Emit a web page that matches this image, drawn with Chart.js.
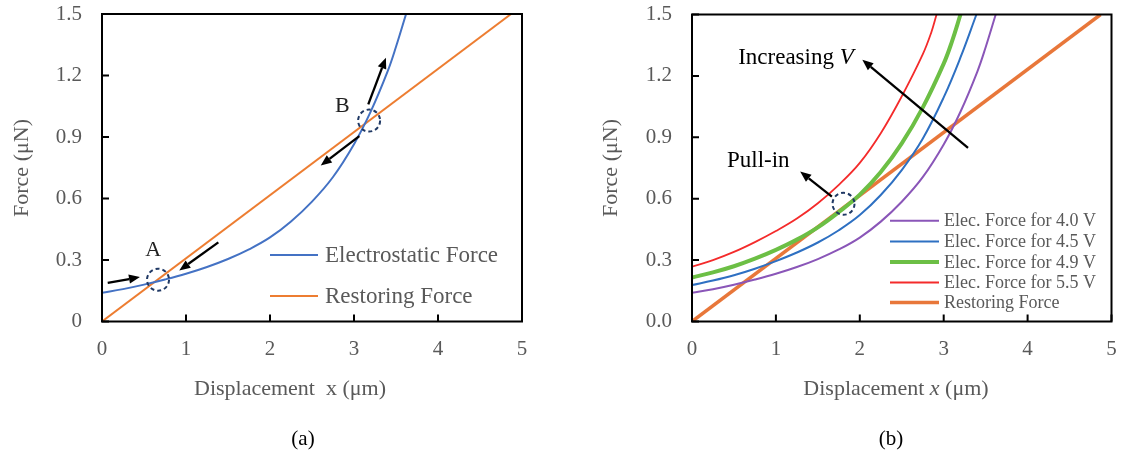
<!DOCTYPE html>
<html><head><meta charset="utf-8">
<script src="https://cdn.jsdelivr.net/npm/chart.js@4.4.0/dist/chart.umd.min.js"></script>
<style>
html,body{margin:0;padding:0;background:#fff;}
#wrap{position:relative;width:1122px;height:455px;}
canvas{position:absolute;top:0;}
</style></head><body>
<div id="wrap">
<canvas id="ca" width="561" height="455" style="left:0"></canvas>
<canvas id="cb" width="561" height="455" style="left:561px"></canvas>
</div>
<script>
// ---------- data ----------
const xTickLabels = ['0','1','2','3','4','5'];
const yTickLabelsA = ['0','0.3','0.6','0.9','1.2','1.5'];
const yTickLabelsB = ['0.0','0.3','0.6','0.9','1.2','1.5'];

const xElec40 = [0, 0.25, 0.5, 0.75, 1.0, 1.25, 1.5, 1.75, 2.0, 2.25, 2.5, 2.75, 3.0, 3.2, 3.4, 3.5, 3.62];
const yElec40 = [0.14, 0.158, 0.18, 0.205, 0.233, 0.266, 0.305, 0.352, 0.41, 0.488, 0.585, 0.705, 0.865, 1.025, 1.22, 1.34, 1.5];

const xElec45 = [0, 0.25, 0.5, 0.75, 1.0, 1.25, 1.5, 1.75, 2.0, 2.25, 2.5, 2.75, 3.0, 3.2, 3.39];
const yElec45 = [0.178, 0.2, 0.226, 0.258, 0.295, 0.337, 0.386, 0.446, 0.52, 0.618, 0.74, 0.893, 1.095, 1.29, 1.5];

const xElec49 = [0, 0.25, 0.5, 0.75, 1.0, 1.25, 1.5, 1.75, 2.0, 2.25, 2.5, 2.75, 3.0, 3.1, 3.2];
const yElec49 = [0.215, 0.24, 0.27, 0.307, 0.35, 0.40, 0.46, 0.535, 0.62, 0.73, 0.87, 1.045, 1.26, 1.37, 1.5];

const xElec55 = [0, 0.25, 0.5, 0.75, 1.0, 1.25, 1.5, 1.75, 2.0, 2.25, 2.5, 2.75, 2.85, 2.915];
const yElec55 = [0.268, 0.30, 0.34, 0.388, 0.442, 0.503, 0.578, 0.668, 0.775, 0.92, 1.10, 1.305, 1.41, 1.5];

const xRest = [0, 4.87];
const yRest = [0, 1.5];

const labelsA = ['Electrostatic Force', 'Restoring Force'];
const labelsB = ['Elec. Force for 4.0 V', 'Elec. Force for 4.5 V', 'Elec. Force for 4.9 V', 'Elec. Force for 5.5 V', 'Restoring Force'];

// ---------- helpers ----------
const pts = (xs, ys) => xs.map((x, i) => ({x: x, y: ys[i]}));
const SERIF = "'Liberation Serif', 'Times New Roman', serif";
const GREY = '#595959';

function arrow(ctx, x1, y1, x2, y2) {
  const a = Math.atan2(y2 - y1, x2 - x1);
  const hl = 11, hw = 9;
  const bx = x2 - hl * Math.cos(a), by = y2 - hl * Math.sin(a);
  ctx.save();
  ctx.strokeStyle = '#000'; ctx.fillStyle = '#000'; ctx.lineWidth = 2.3;
  ctx.beginPath(); ctx.moveTo(x1, y1); ctx.lineTo(bx, by); ctx.stroke();
  ctx.beginPath();
  ctx.moveTo(x2, y2);
  ctx.lineTo(bx + hw / 2 * Math.sin(a), by - hw / 2 * Math.cos(a));
  ctx.lineTo(bx - hw / 2 * Math.sin(a), by + hw / 2 * Math.cos(a));
  ctx.closePath(); ctx.fill();
  ctx.restore();
}
function dashCircle(ctx, x, y, r) {
  ctx.save();
  ctx.strokeStyle = '#1F3864'; ctx.lineWidth = 2; ctx.setLineDash([4, 3]);
  ctx.beginPath(); ctx.arc(x, y, r, 0, Math.PI * 2); ctx.stroke();
  ctx.restore();
}

function frameTicks(chart) {
  const ctx = chart.ctx, a = chart.chartArea, sx = chart.scales.x, sy = chart.scales.y;
  ctx.save();
  ctx.strokeStyle = '#000'; ctx.lineWidth = 2;
  ctx.beginPath();
  sy.ticks.forEach(t => { const y = sy.getPixelForValue(t.value); ctx.moveTo(a.left, y); ctx.lineTo(a.left + 7, y); });
  sx.ticks.forEach(t => { const x = sx.getPixelForValue(t.value); ctx.moveTo(x, a.bottom); ctx.lineTo(x, a.bottom - 7); });
  ctx.stroke();
  ctx.strokeRect(a.left, a.top, a.right - a.left, a.bottom - a.top);
  ctx.restore();
}
function yTitle(ctx, x, y, size) {
  ctx.save();
  ctx.translate(x, y); ctx.rotate(-Math.PI / 2);
  ctx.fillStyle = GREY; ctx.font = size + 'px ' + SERIF;
  ctx.textAlign = 'center'; ctx.textBaseline = 'middle';
  ctx.fillText('Force (\u03bcN)', 0, 0);
  ctx.restore();
}
function mixedText(ctx, parts, cx, y, size, color, align) {
  ctx.save();
  ctx.fillStyle = color; ctx.textBaseline = 'middle'; ctx.textAlign = 'left';
  let w = 0;
  parts.forEach(p => { ctx.font = (p[1] ? 'italic ' : '') + size + 'px ' + SERIF; w += ctx.measureText(p[0]).width; });
  let x = align === 'left' ? cx : cx - w / 2;
  parts.forEach(p => { ctx.font = (p[1] ? 'italic ' : '') + size + 'px ' + SERIF; ctx.fillText(p[0], x, y); x += ctx.measureText(p[0]).width; });
  ctx.restore();
}
function legend(chart, x0, x1, xt, ys, size) {
  const ctx = chart.ctx;
  ctx.save();
  chart.data.datasets.forEach((d, i) => {
    ctx.strokeStyle = d.borderColor; ctx.lineWidth = d.borderWidth;
    ctx.beginPath(); ctx.moveTo(x0, ys[i]); ctx.lineTo(x1, ys[i]); ctx.stroke();
    ctx.fillStyle = GREY; ctx.font = size + 'px ' + SERIF; ctx.textBaseline = 'middle'; ctx.textAlign = 'left';
    ctx.fillText(d.label, xt, ys[i] + 1);
  });
  ctx.restore();
}

function scaleOpts(yLabels, yw, xh) {
  return {
    x: {
      type: 'linear', min: 0, max: 5,
      ticks: { stepSize: 1, color: GREY, font: {family: SERIF, size: 21}, padding: 15,
               callback: (v, i) => xTickLabels[i] },
      grid: { display: false, drawTicks: false }, border: { display: false },
      afterFit: s => { s.height = xh; s.paddingLeft = 0; s.paddingRight = 0; }
    },
    y: {
      type: 'linear', min: 0, max: 1.5,
      ticks: { stepSize: 0.3, color: GREY, font: {family: SERIF, size: 21}, padding: 20,
               callback: (v, i) => yLabels[i] },
      grid: { display: false, drawTicks: false }, border: { display: false },
      afterFit: s => { s.width = yw; s.paddingTop = 0; s.paddingBottom = 0; }
    }
  };
}

// ---------- chart (a) ----------
const annA = {
  id: 'annA',
  afterDraw(chart) {
    const ctx = chart.ctx, sx = chart.scales.x, sy = chart.scales.y;
    const X = v => sx.getPixelForValue(v), Y = v => sy.getPixelForValue(v);
    frameTicks(chart);
    dashCircle(ctx, X(0.667), Y(0.204), 11);
    dashCircle(ctx, X(3.18), Y(0.98), 11);
    arrow(ctx, X(0.068), Y(0.188), X(0.452), Y(0.217));
    arrow(ctx, X(1.385), Y(0.386), X(0.92), Y(0.249));
    arrow(ctx, X(3.17), Y(1.059), X(3.38), Y(1.287));
    arrow(ctx, X(3.063), Y(0.904), X(2.604), Y(0.761));
    mixedText(ctx, [['A', false]], X(0.61), Y(0.35), 22, '#222');
    mixedText(ctx, [['B', false]], X(2.86), Y(1.05), 22, '#222');
    legend(chart, 270, 318, 325, [255, 296], 23);
    yTitle(ctx, 22, 168, 22);
    mixedText(ctx, [['Displacement  x (\u03bcm)', false]], 290, 389, 22, GREY);
    mixedText(ctx, [['(a)', false]], 303, 439, 21, '#000');
  }
};
new Chart(document.getElementById('ca'), {
  type: 'scatter',
  data: { datasets: [
    { label: labelsA[0], data: pts(xElec40, yElec40), showLine: true, borderColor: '#4472C4', borderWidth: 2, pointRadius: 0, tension: 0.4 },
    { label: labelsA[1], data: pts(xRest, yRest), showLine: true, borderColor: '#ED7D31', borderWidth: 2, pointRadius: 0 }
  ]},
  options: {
    responsive: false, animation: false, devicePixelRatio: 1,
    layout: { padding: { left: 0, top: 14, right: 39, bottom: 55 } },
    plugins: { legend: { display: false }, tooltip: { enabled: false } },
    scales: scaleOpts(yTickLabelsA, 102, 78.5)
  },
  plugins: [annA]
});

// ---------- chart (b) ----------
const annB = {
  id: 'annB',
  afterDraw(chart) {
    const ctx = chart.ctx, sx = chart.scales.x, sy = chart.scales.y;
    const X = v => sx.getPixelForValue(v), Y = v => sy.getPixelForValue(v);
    frameTicks(chart);
    dashCircle(ctx, X(1.806), Y(0.575), 11);
    arrow(ctx, X(1.667), Y(0.61), X(1.289), Y(0.733));
    arrow(ctx, X(3.29), Y(0.848), X(2.03), Y(1.279));
    mixedText(ctx, [['Pull-in', false]], X(0.79), Y(0.786), 23, '#000');
    mixedText(ctx, [['Increasing ', false], ['V', true]], X(0.55), Y(1.29), 23, '#000', 'left');
    legend(chart, 329, 378, 383, [220.7, 241.5, 262, 282.5, 302.5], 18);
    yTitle(ctx, 50, 168, 22);
    mixedText(ctx, [['Displacement ', false], ['x', true], [' (\u03bcm)', false]], 335, 389, 22, GREY);
    mixedText(ctx, [['(b)', false]], 330, 439, 21, '#000');
  }
};
new Chart(document.getElementById('cb'), {
  type: 'scatter',
  data: { datasets: [
    { label: labelsB[0], data: pts(xElec40, yElec40), showLine: true, borderColor: '#8A56B8', borderWidth: 2, pointRadius: 0, tension: 0.4 },
    { label: labelsB[1], data: pts(xElec45, yElec45), showLine: true, borderColor: '#2E70C2', borderWidth: 2, pointRadius: 0, tension: 0.4 },
    { label: labelsB[2], data: pts(xElec49, yElec49), showLine: true, borderColor: '#6CBF45', borderWidth: 4, pointRadius: 0, tension: 0.4 },
    { label: labelsB[3], data: pts(xElec55, yElec55), showLine: true, borderColor: '#F42B2B', borderWidth: 1.8, pointRadius: 0, tension: 0.4 },
    { label: labelsB[4], data: pts(xRest, yRest), showLine: true, borderColor: '#E8773A', borderWidth: 3.5, pointRadius: 0 }
  ]},
  options: {
    responsive: false, animation: false, devicePixelRatio: 1,
    layout: { padding: { left: 30, top: 14.5, right: 10.5, bottom: 55 } },
    plugins: { legend: { display: false }, tooltip: { enabled: false } },
    scales: scaleOpts(yTickLabelsB, 101, 78.5)
  },
  plugins: [annB]
});
</script>
</body></html>
